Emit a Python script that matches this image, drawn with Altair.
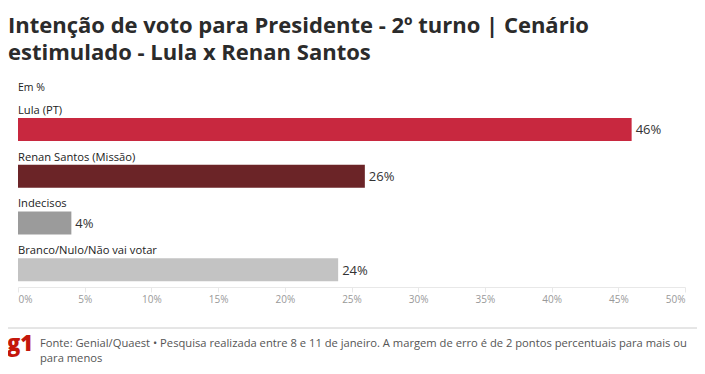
import altair as alt
import pandas as pd

categories = ["Lula (PT)", "Renan Santos (Missão)", "Indecisos", "Branco/Nulo/Não vai votar"]
values = [46, 26, 4, 24]
colors = ["#c8283f", "#6b2427", "#9b9b9b", "#c3c3c3"]
ticks = [0, 5, 10, 15, 20, 25, 30, 35, 40, 45, 50]

title_lines = ["Intenção de voto para Presidente - 2º turno | Cenário",
               "estimulado - Lula x Renan Santos"]
unit_text = "Em %"
footer_lines = ["Fonte: Genial/Quaest • Pesquisa realizada entre 8 e 11 de janeiro. A margem de erro é de 2 pontos percentuais para mais ou",
                "para menos"]
logo_text = "g1"

FONT = "Open Sans"

df = pd.DataFrame({"cat": categories, "val": values, "color": colors,
                   "lbl": [f"{v}%" for v in values]})

y_enc = alt.Y("cat:N", sort=categories, axis=None,
              scale=alt.Scale(paddingInner=0, paddingOuter=0))
x_enc = alt.X("val:Q", scale=alt.Scale(domain=[0, 50]),
              axis=alt.Axis(values=ticks, labelExpr="datum.value + '%'", grid=False,
                            labelColor="#999999", labelFontSize=10, labelFont=FONT,
                            domainColor="#e8e8e8", tickColor="#e8e8e8", tickSize=5,
                            labelPadding=2, title=None))

base = alt.Chart(df)
bars = base.mark_bar(size=23, yOffset=6).encode(
    x=x_enc, y=y_enc, color=alt.Color("color:N", scale=None))
cat_labels = base.mark_text(align="left", baseline="middle", font=FONT, fontSize=11.2,
                            color="#222222", yOffset=-12.5).encode(
    x=alt.value(0), y=y_enc, text="cat:N")
val_labels = base.mark_text(align="left", baseline="middle", font=FONT, fontSize=13,
                            color="#333333", dx=4, yOffset=7).encode(
    x="val:Q", y=y_enc, text="lbl:N")

one = pd.DataFrame({"k": [0]})
title = alt.Chart(one).mark_text(align="left", baseline="alphabetic", font=FONT,
                                 fontSize=22, fontWeight="bold", color="#2b2b2b",
                                 lineHeight=27).encode(
    x=alt.value(-10), y=alt.value(-67), text=alt.value(title_lines))
unit = alt.Chart(one).mark_text(align="left", baseline="middle", font=FONT,
                                fontSize=10.5, color="#222222").encode(
    x=alt.value(0), y=alt.value(-12), text=alt.value(unit_text))
rule = alt.Chart(one).mark_rule(color="#cccccc", strokeWidth=1).encode(
    x=alt.value(-10), x2=alt.value(679), y=alt.value(228))
logo = alt.Chart(one).mark_text(align="left", baseline="alphabetic", font=FONT,
                                fontSize=22, fontWeight=800, color="#c4170c").encode(
    x=alt.value(-11), y=alt.value(251), text=alt.value(logo_text))
footer = alt.Chart(one).mark_text(align="left", baseline="middle", font=FONT,
                                  fontSize=11.2, color="#555555", lineHeight=15).encode(
    x=alt.value(22), y=alt.value(244), text=alt.value(footer_lines))

chart = alt.layer(bars, cat_labels, val_labels, title, unit, rule, logo, footer).properties(
    width=667, height=187,
    background="white",
    autosize=alt.AutoSizeParams(type="none"),
    padding={"left": 10, "top": 92, "right": 12, "bottom": 79},
).configure_view(stroke=None)

chart.save("out.html", embed_options={"renderer": "svg", "actions": False})
